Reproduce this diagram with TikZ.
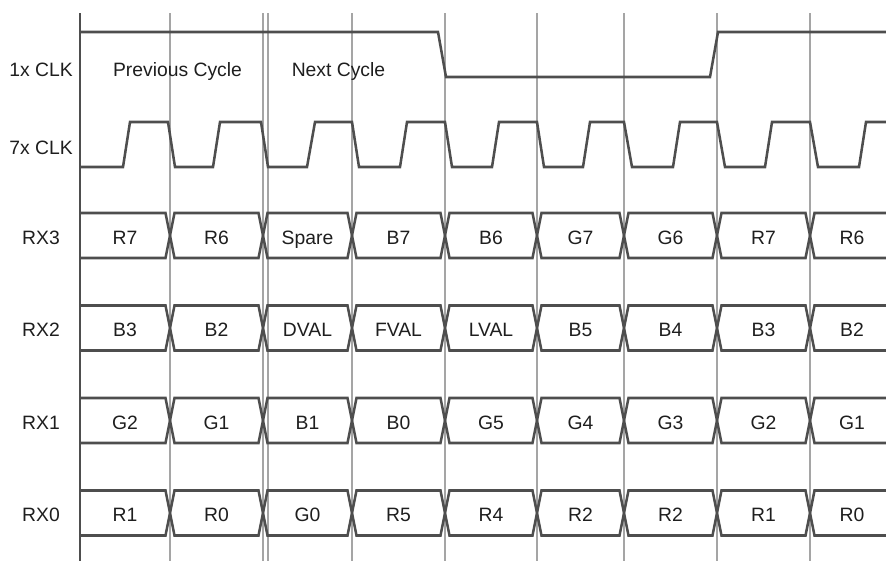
\documentclass[tikz,border=0pt]{standalone}
\usepackage{fontspec}
\setmainfont{Liberation Sans}
\definecolor{wavegray}{RGB}{78,78,78}
\definecolor{gridgray}{RGB}{165,165,165}
\definecolor{ink}{RGB}{30,30,30}

\begin{document}
\begin{tikzpicture}[x=0.75pt,y=0.75pt,yscale=-1,xscale=1,
  wave/.style={draw=wavegray,line width=1.9pt,line join=miter},
  gridline/.style={draw=gridgray,line width=0.9pt},
  axisline/.style={draw=wavegray,line width=1.6pt},
  lbl/.style={text=ink,font=\fontsize{14.5}{16}\selectfont,inner sep=0pt,text height=10.4pt,text depth=0pt}]
\useasboundingbox (0,0) rectangle (886,561);

%Grid lines
\foreach \x in {170,263,268,352,445,537,624,717,810}
  \draw[gridline] (\x,13) -- (\x,561);
\draw[axisline] (80,13) -- (80,561);

%1x CLK
\draw[wave] (80,32) -- (438,32) -- (446,77) -- (710,77) -- (718,32) -- (890,32);

%7x CLK
\draw[wave] (80,167) -- (123,167) -- (130,122) -- (168,122) -- (175,167) -- (213,167) -- (220,122) -- (261,122) -- (268,167)
  -- (307,167) -- (315,122) -- (352,122) -- (359,167) -- (400,167) -- (407,122) -- (445,122) -- (452,167)
  -- (492,167) -- (499,122) -- (537,122) -- (544,167) -- (583,167) -- (590,122) -- (624,122) -- (632,167)
  -- (673,167) -- (680,122) -- (717,122) -- (725,167) -- (765,167) -- (772,122) -- (810,122) -- (818,167)
  -- (859,167) -- (866,122) -- (890,122);

% Text Node
\node[lbl] (clk1) at (41,70) {1x CLK};
\node[lbl] (clk7) at (41,148) {7x CLK};
\node[lbl] (prev) at (177.5,70) {Previous Cycle};
\node[lbl] (next) at (338.5,70) {Next Cycle};

%Data lanes
\foreach \row/\yc/\cells in {rx3/235.5/{R7,R6,Spare,B7,B6,G7,G6,R7,R6},
                            rx2/328/{B3,B2,DVAL,FVAL,LVAL,B5,B4,B3,B2},
                            rx1/420.5/{G2,G1,B1,B0,G5,G4,G3,G2,G1},
                            rx0/513/{R1,R0,G0,R5,R4,R2,R2,R1,R0}}{
  \draw[wave] (80,\yc-22.5) -- (165.5,\yc-22.5) -- (170,\yc) -- (165.5,\yc+22.5) -- (80,\yc+22.5);
  \foreach \a/\b in {170/263,263/352,352/445,445/537,537/624,624/717,717/810}
    \draw[wave] (\a,\yc) -- (\a+4.5,\yc-22.5) -- (\b-4.5,\yc-22.5) -- (\b,\yc) -- (\b-4.5,\yc+22.5) -- (\a+4.5,\yc+22.5) -- cycle;
  \draw[wave] (890,\yc-22.5) -- (814.5,\yc-22.5) -- (810,\yc) -- (814.5,\yc+22.5) -- (890,\yc+22.5);
  \foreach \c [count=\i] in \cells{
    \pgfmathsetmacro\cx{{125,216.5,307.5,398.5,491,580.5,670.5,763.5,852}[\i-1]}
    \node[lbl] (\row-\i) at (\cx,\yc+2) {\c};
  }
}
\node[lbl] (rx3) at (41,237.5) {RX3};
\node[lbl] (rx2) at (41,330) {RX2};
\node[lbl] (rx1) at (41,422.5) {RX1};
\node[lbl] (rx0) at (41,515) {RX0};

\end{tikzpicture}
\end{document}
